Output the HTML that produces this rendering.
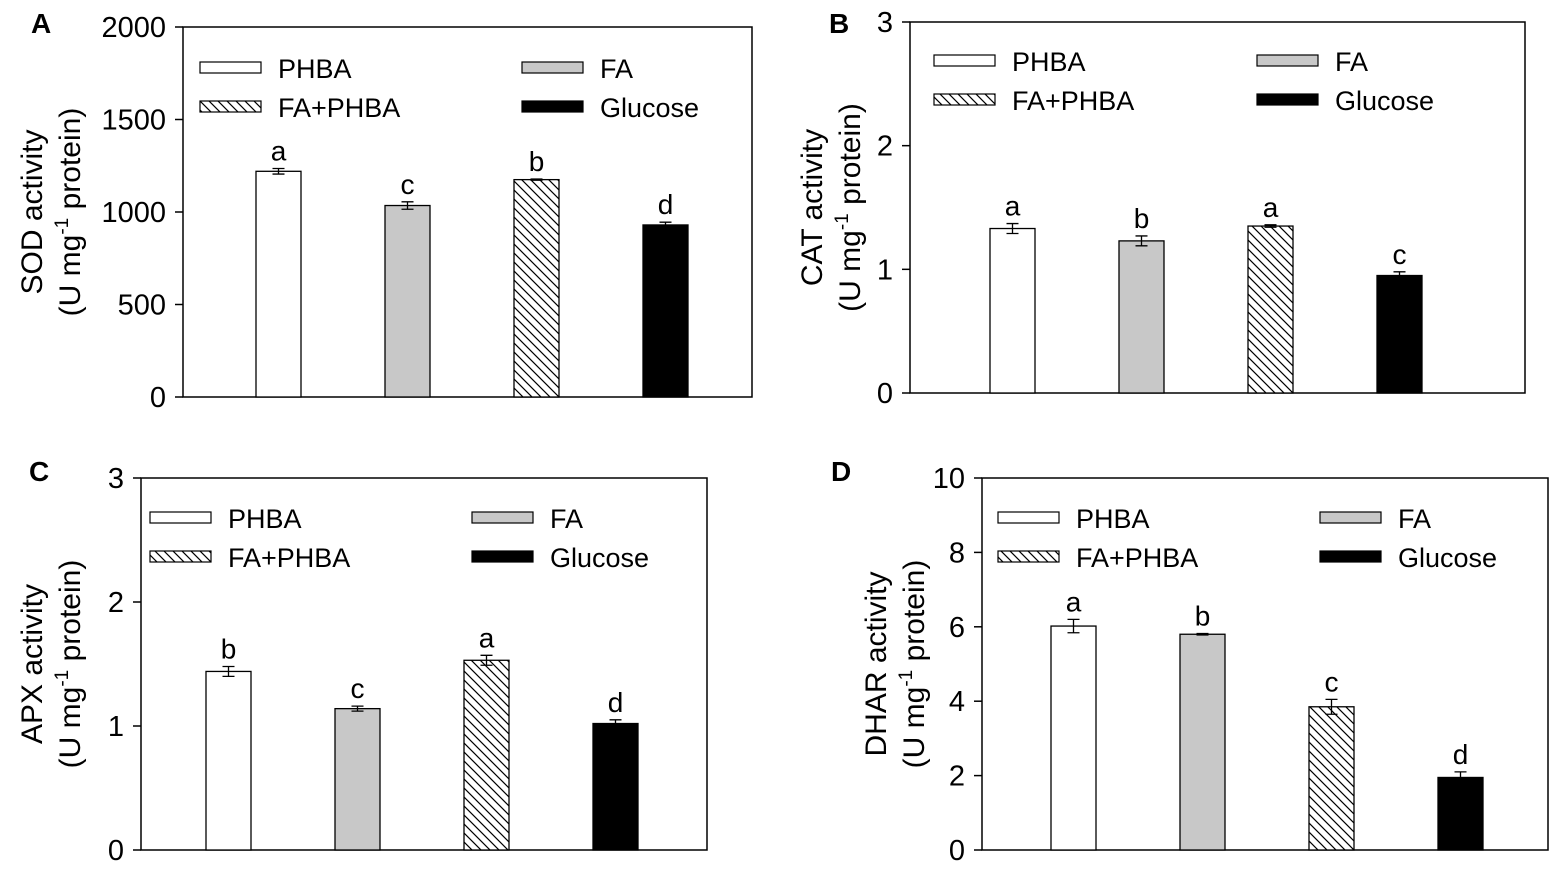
<!DOCTYPE html>
<html><head><meta charset="utf-8"><style>
body{margin:0;background:#fff}
svg{display:block;font-family:"Liberation Sans",Arial,sans-serif}
</style></head><body>
<svg id="fig" width="1567" height="875" viewBox="0 0 1567 875">
<defs>
<pattern id="hatch" patternUnits="userSpaceOnUse" width="9" height="9">
<rect width="9" height="9" fill="#fff"/>
<path d="M-2,-2 L11,11 M-2,7 L2,11 M7,-2 L11,2" stroke="#000" stroke-width="1.2"/>
</pattern>
</defs>
</svg>
<script>
const categories = ["PHBA","FA","FA+PHBA","Glucose"];
const sodValues = [1220,1035,1175,930];
const sodErrors = [15,20,3,15];
const sodLetters = ["a","c","b","d"];
const catValues = [1.33,1.23,1.35,0.95];
const catErrors = [0.04,0.04,0.01,0.03];
const catLetters = ["a","b","a","c"];
const apxValues = [1.44,1.14,1.53,1.02];
const apxErrors = [0.04,0.02,0.04,0.03];
const apxLetters = ["b","c","a","d"];
const dharValues = [6.02,5.8,3.85,1.95];
const dharErrors = [0.18,0.02,0.2,0.15];
const dharLetters = ["a","b","c","d"];
const sodTicks = [0,500,1000,1500,2000];
const catTicks = [0,1,2,3];
const apxTicks = [0,1,2,3];
const dharTicks = [0,2,4,6,8,10];

const NS="http://www.w3.org/2000/svg";
const svg=document.getElementById('fig');
function el(tag,attrs,parent,text){const e=document.createElementNS(NS,tag);for(const k in attrs)e.setAttribute(k,attrs[k]);if(text!==undefined)e.textContent=text;(parent||svg).appendChild(e);return e;}
const fills=["#fff","#c8c8c8","url(#hatch)","#000"];

function panel(p){
  const g=el('g',{});
  
  
  const L=p.left,R=p.right,T=p.top,B=p.bottom,max=p.ticks[p.ticks.length-1];
  const y=v=>B-(v/max)*(B-T);
  const lbl=el('text',{x:p.lx,y:p.ly,'font-size':28,'font-weight':'bold'},g,p.id);
  
  
  const frame=el('rect',{x:L,y:T,width:R-L,height:B-T,fill:'none',stroke:'#000','stroke-width':1.5},g);
  
  
  p.ticks.forEach(t=>{
    el('line',{x1:L-8,x2:L,y1:y(t),y2:y(t),stroke:'#000','stroke-width':1.5},g);
    const tl=el('text',{x:L-17,y:y(t)+10,'font-size':29,'text-anchor':'end'},g,String(t));
    
    
  });
  const cy=(T+B)/2;
  const t1=el('text',{transform:`translate(${p.tx},${cy}) rotate(-90)`,'font-size':30,'text-anchor':'middle'},g,p.title);
  
  
  const t2=el('text',{transform:`translate(${p.tx+38},${cy}) rotate(-90)`,'font-size':30,'text-anchor':'middle'},g);
  
  
  el('tspan',{},t2,'(U mg');
  el('tspan',{dy:-12,'font-size':19},t2,'-1');
  el('tspan',{dy:12},t2,' protein)');
  const bw=45,start=p.bar0,step=129;
  p.values.forEach((v,i)=>{
    const x=start+i*step;
    const b=el('rect',{x:x,y:y(v),width:bw,height:B-y(v),fill:fills[i],stroke:'#000','stroke-width':1.3},g);
    
    
    const cx=x+bw/2,e=p.errors[i];
    el('path',{d:`M${cx},${y(v+e)}V${y(v-e)}M${cx-6},${y(v+e)}H${cx+6}M${cx-6},${y(v-e)}H${cx+6}`,stroke:'#000','stroke-width':1.3,fill:'none'},g);
    const s=el('text',{x:cx,y:y(v+e)-8,'font-size':28,'text-anchor':'middle'},g,p.letters[i]);
    
    
  });
  const pos=[[0,0],[p.lg2,0],[0,1],[p.lg2,1]];
  [0,1,2,3].forEach(i=>{
    const lx=L+p.lg1+pos[i][0], ly=T+p.lgy+pos[i][1]*39;
    const sw=el('rect',{x:lx,y:ly-6,width:61,height:11,fill:fills[i],stroke:'#000','stroke-width':1.2},g);
    
    
    const lt=el('text',{x:lx+78,y:ly+10,'font-size':27},g,categories[i]);
    
    
  });
}
panel({id:'A',left:183,right:752,top:27,bottom:397,ticks:sodTicks,values:sodValues,errors:sodErrors,letters:sodLetters,bar0:256,lx:31,ly:33,tx:42,title:'SOD activity',lg1:17,lg2:322,lgy:41});
panel({id:'B',left:910,right:1525,top:22,bottom:393,ticks:catTicks,values:catValues,errors:catErrors,letters:catLetters,bar0:990,lx:829,ly:33,tx:822,title:'CAT activity',lg1:24,lg2:323,lgy:39});
panel({id:'C',left:141,right:707,top:478,bottom:850,ticks:apxTicks,values:apxValues,errors:apxErrors,letters:apxLetters,bar0:206,lx:29,ly:481,tx:42,title:'APX activity',lg1:9,lg2:322,lgy:40});
panel({id:'D',left:982,right:1548,top:478,bottom:850,ticks:dharTicks,values:dharValues,errors:dharErrors,letters:dharLetters,bar0:1051,lx:831,ly:481,tx:886,title:'DHAR activity',lg1:16,lg2:322,lgy:40});
</script>
</body></html>
